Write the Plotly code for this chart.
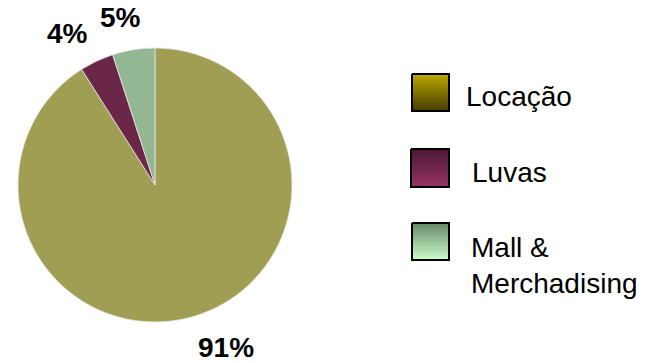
import plotly.graph_objects as go

# Revenue composition (percent of total)
categories = ["Locação", "Luvas", "Mall & Merchadising"]
legend_text = ["Locação", "Luvas", "Mall &<br>Merchadising"]
values = [91, 4, 5]

slice_colors = ["#a09e52", "#6b2748", "#93b793"]
# top / bottom colours of the legend swatches
swatch_top = ["#bcaa00", "#4a1a35", "#668866"]
swatch_bottom = ["#453c00", "#983263", "#ccfccc"]

W, H = 660, 363

fig = go.Figure()

fig.add_trace(go.Pie(
    labels=categories,
    values=values,
    sort=False,
    direction="clockwise",
    rotation=0,
    textinfo="none",
    hoverinfo="label+percent",
    marker=dict(colors=slice_colors, line=dict(color="#e4e4e4", width=0.8)),
    domain=dict(x=[18 / W, 292 / W], y=[41 / H, 315 / H]),
    showlegend=False,
))

# percentage labels around the pie
label_pos = [(226, 347), (67, 33), (120, 17)]
for v, (px, py) in zip(values, label_pos):
    fig.add_annotation(
        x=px / W, y=1 - py / H, xref="paper", yref="paper",
        text=f"<b>{v}%</b>", showarrow=False,
        font=dict(family="Liberation Sans, Arial", size=28, color="#000000"),
        xanchor="center", yanchor="middle",
    )

# legend: gradient swatches on a pixel-space overlay axis
swatch_boxes = [(412, 74, 449, 111), (411, 149, 449, 187), (412, 223, 449, 260)]
for (x0, y0, x1, y1), ct, cb in zip(swatch_boxes, swatch_top, swatch_bottom):
    fig.add_trace(go.Scatter(
        x=[x0, x1, x1, x0, x0], y=[y0, y0, y1, y1, y0],
        mode="lines", fill="toself",
        line=dict(color="#000000", width=2),
        fillgradient=dict(type="vertical", start=y0, stop=y1,
                          colorscale=[[0, ct], [1, cb]]),
        hoverinfo="skip", showlegend=False,
    ))

text_pos = [(464, 96), (470, 172), (469, 265)]
for t, (px, py) in zip(legend_text, text_pos):
    fig.add_annotation(
        x=px, y=py, xref="x", yref="y",
        text=t, showarrow=False, align="left",
        font=dict(family="Liberation Sans, Arial", size=28, color="#000000"),
        xanchor="left", yanchor="middle",
    )

fig.update_layout(
    width=W, height=H,
    margin=dict(l=0, r=0, t=0, b=0),
    paper_bgcolor="#ffffff",
    plot_bgcolor="rgba(0,0,0,0)",
    xaxis=dict(range=[0, W], visible=False, fixedrange=True),
    yaxis=dict(range=[H, 0], visible=False, fixedrange=True),
)

fig.write_html("out.html")
